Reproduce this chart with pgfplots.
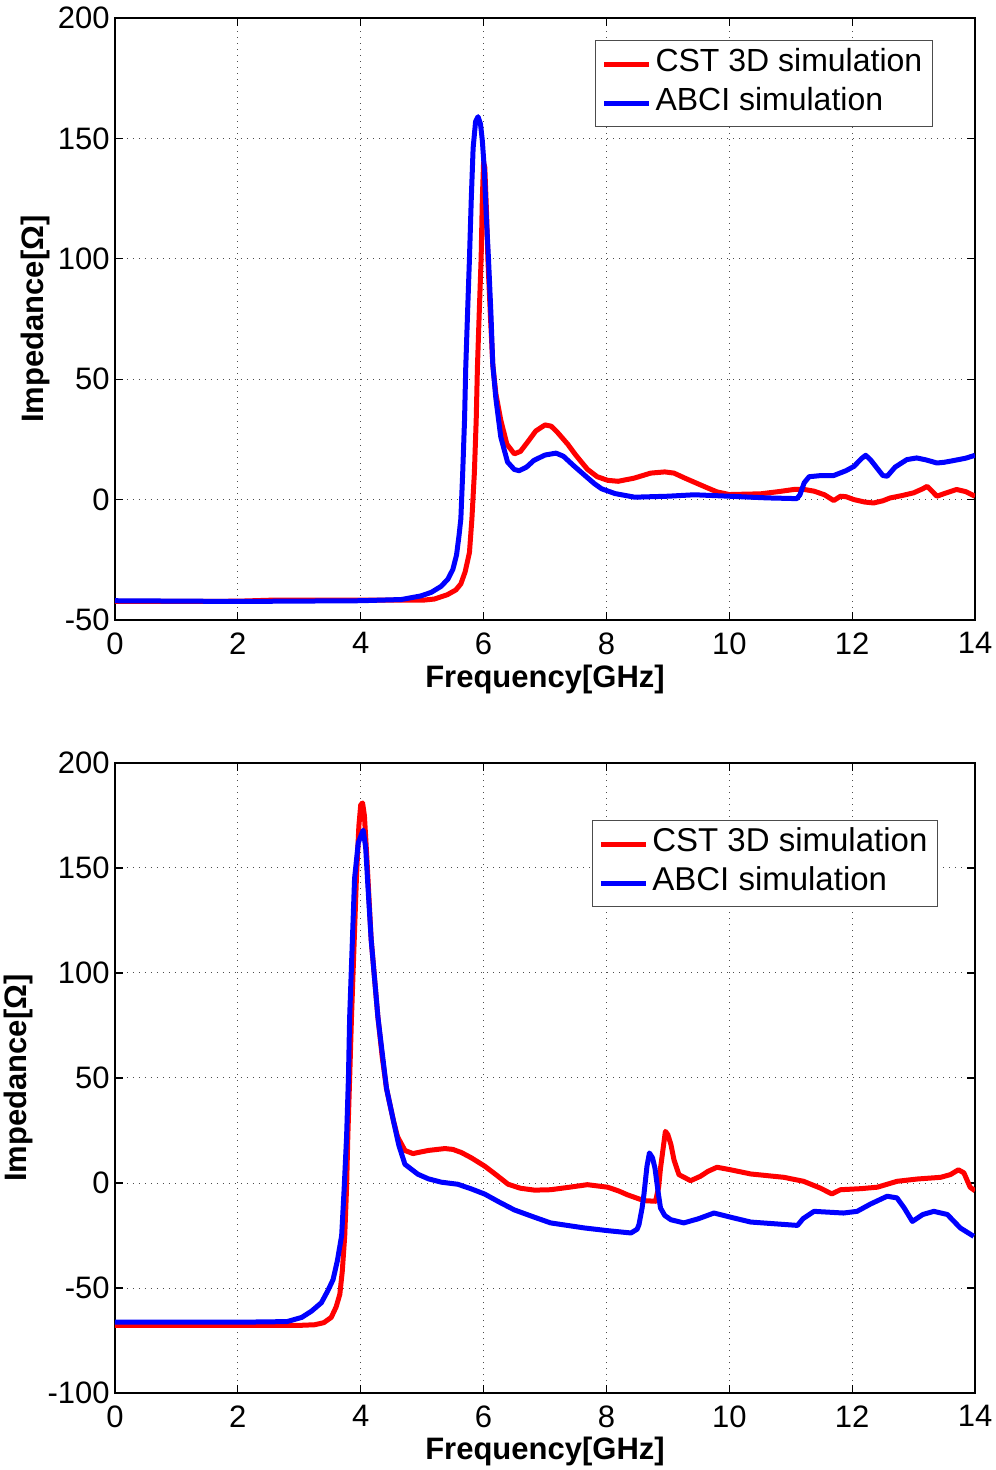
\documentclass[border=0pt]{standalone}
\usepackage{fontspec}
\setmainfont{Liberation Sans}
\usepackage{pgfplots}
\pgfplotsset{compat=1.18}

\pgfplotsset{
  imp/.style={
    scale only axis, width=430pt,
    xmin=0, xmax=14, xtick={0,2,...,14},
    xticklabels={0,2,4,6,8,10,12,14},
    tick align=inside, major tick length=4pt,
    axis line style={black, line width=0.6pt},
    tick style={black, line width=0.6pt},
    grid=major,
    major grid style={black!70, line width=0.5pt, dash pattern=on 0.6pt off 2.4pt},
    xticklabel style={inner sep=0pt, yshift=-6pt},
    yticklabel style={inner sep=0pt, xshift=-2.5pt},
    xlabel={\textbf{Frequency[GHz]}},
    ylabel={\textbf{Impedance[Ω]}},
    legend cell align=left,
    legend image code/.code={\draw[#1] (0pt,0pt) -- (22.5pt,0pt);},
    legend style={draw=black!70, line width=0.6pt, fill=white,
      inner xsep=3pt, inner ysep=2.5pt, row sep=1pt,
      nodes={inner sep=2pt, text height=11pt, text depth=3.5pt, line width=0.6pt}},
  },
  cst/.style={red, line width=2.5pt, line join=round},
  abci/.style={blue, line width=2.5pt, line join=round},
}

\begin{document}
\begin{tikzpicture}[font=\fontsize{15.5}{18}\selectfont]
\path[use as bounding box] (-57.5pt,-425pt) rectangle (440pt,310pt);

\begin{axis}[imp, name=top, at={(0,0)}, anchor=south west,
    height=301pt, ymin=-50, ymax=200,
    ytick={-50,0,50,100,150,200},
    yticklabels={-50,0,50,100,150,200},
    xlabel style={at={(axis description cs:0.5,-0.098)}, anchor=center},
    ylabel style={at={(axis description cs:-0.093,0.5)}, anchor=center, rotate=0},
    legend style={at={(axis description cs:0.951,0.963)}, anchor=north east,
      font=\fontsize{16}{18}\selectfont}]
\addplot[cst] coordinates {
(0,-42.3) (1,-42.3) (2,-42.2) (2.5,-41.8) (3,-41.7) (4,-41.7) (4.5,-41.8)
(5,-41.8) (5.2,-41.3) (5.41,-39.5) (5.55,-37.5) (5.63,-35) (5.7,-30)
(5.77,-22) (5.81,-8) (5.85,11) (5.88,33) (5.90,55) (5.93,78) (5.96,100)
(5.98,125) (6.0,140) (6.02,138) (6.05,118) (6.07,100) (6.11,77) (6.15,56)
(6.2,44) (6.28,33) (6.38,23) (6.5,19) (6.6,20) (6.72,24) (6.85,28.5)
(7.0,31) (7.1,30.5) (7.2,28) (7.37,23) (7.5,18.5) (7.69,12.6) (7.85,9.5)
(8.02,8) (8.19,7.6) (8.45,8.9) (8.72,11) (8.95,11.5) (9.1,11) (9.27,9)
(9.45,7) (9.65,4.8) (9.8,3.2) (10.0,2.1) (10.51,2.4) (10.8,3.3) (11.05,4.2)
(11.2,4.3) (11.38,3.5) (11.55,2.0) (11.70,-0.4) (11.81,1.4) (11.9,1.2)
(12.03,0) (12.2,-1.0) (12.35,-1.4) (12.5,-0.5) (12.62,0.7) (12.8,1.6)
(13.0,2.8) (13.15,4.5) (13.22,5.5) (13.3,3.5) (13.38,1.4) (13.5,2.5)
(13.7,4.2) (13.85,3.3) (14.0,1.4)
};
\addplot[abci] coordinates {
(0,-42) (2,-42.3) (4,-42) (4.66,-41.5) (4.98,-40) (5.15,-38.5) (5.31,-36)
(5.42,-33) (5.50,-29) (5.56,-23) (5.60,-15) (5.63,-8) (5.66,11) (5.69,33)
(5.71,55) (5.74,78) (5.77,100) (5.80,125) (5.83,146) (5.87,157) (5.91,159)
(5.95,156) (5.98,149) (6.01,138) (6.04,120) (6.08,100) (6.12,77) (6.15,56)
(6.2,42) (6.28,26) (6.39,15.6) (6.5,12.5) (6.58,12) (6.7,13.5) (6.82,16.3)
(7.0,18.5) (7.18,19.3) (7.3,18) (7.47,14) (7.65,10) (7.80,6.7) (7.92,4.5)
(8.14,2.5) (8.46,1) (9.0,1.4) (9.43,2) (10.0,1.4) (10.62,0.7) (11.1,0.4)
(11.15,2) (11.22,7) (11.3,9.5) (11.5,10) (11.7,10) (11.9,12) (12.03,13.8)
(12.15,17) (12.22,18.4) (12.3,16.5) (12.41,12.9) (12.5,10) (12.57,9.7)
(12.7,13.5) (12.89,16.6) (13.05,17.3) (13.2,16.5) (13.38,15.2) (13.5,15.5)
(13.65,16.2) (13.85,17.2) (14.0,18.4)
};
\legend{CST 3D simulation, ABCI simulation}
\end{axis}

\begin{axis}[imp, at={(0,-71.5pt)}, anchor=north west,
    height=315pt, ymin=-100, ymax=200,
    ytick={-100,-50,0,50,100,150,200},
    yticklabels={-100,-50,0,50,100,150,200},
    xlabel style={at={(axis description cs:0.5,-0.0935)}, anchor=center},
    ylabel style={at={(axis description cs:-0.1128,0.5)}, anchor=center, rotate=0},
    legend style={at={(axis description cs:0.957,0.9095)}, anchor=north east,
      font=\fontsize{16.5}{18}\selectfont}]
\addplot[cst] coordinates {
(0,-67.8) (2,-67.8) (3.0,-67.8) (3.25,-67.5) (3.4,-66.5) (3.52,-64) (3.6,-59)
(3.66,-53) (3.7,-42) (3.74,-25) (3.77,-2) (3.79,22) (3.82,50) (3.85,79)
(3.89,112) (3.93,145) (3.97,170) (4.0,180) (4.03,181) (4.06,175) (4.1,155) (4.17,116)
(4.28,79) (4.35,60) (4.42,45) (4.53,30) (4.6,22) (4.72,15.5) (4.85,14)
(4.93,14.5) (5.1,15.5) (5.37,16.4) (5.5,16) (5.64,14.5) (5.8,12) (6.02,8)
(6.2,4) (6.40,-0.6) (6.6,-2.5) (6.83,-3.4) (7.09,-3.2) (7.4,-2) (7.69,-0.8)
(8.02,-2) (8.2,-3.8) (8.34,-5.6) (8.61,-8.4) (8.80,-8.7) (8.85,-2) (8.88,7)
(8.93,18) (8.96,24.6) (9.0,23) (9.05,18.3) (9.1,11) (9.18,4) (9.37,1.1)
(9.53,3.2) (9.65,5.5) (9.80,7.5) (10.02,6.3) (10.35,4.3) (10.89,2.7)
(11.21,0.8) (11.48,-2.4) (11.67,-5.2) (11.81,-3.2) (12.14,-2.7) (12.41,-2)
(12.73,0.8) (13.06,1.9) (13.44,2.7) (13.6,4) (13.73,6.3) (13.82,4.8)
(13.92,-2) (14.0,-3.7)
};
\addplot[abci] coordinates {
(0,-66.2) (2,-66.3) (2.8,-66) (3.04,-64) (3.2,-61) (3.36,-57) (3.47,-51)
(3.55,-46) (3.62,-37) (3.69,-25) (3.73,-3) (3.77,22) (3.80,50) (3.82,79)
(3.86,112) (3.90,145) (3.96,162) (4.04,168) (4.08,160) (4.12,140) (4.17,116)
(4.28,79) (4.42,45) (4.53,30) (4.62,18) (4.72,8.9) (4.93,4.2) (5.1,2)
(5.31,0.4) (5.58,-0.6) (5.8,-2.8) (6.02,-5.3) (6.25,-9) (6.50,-12.8)
(6.8,-16) (7.09,-19) (7.64,-21.4) (8.02,-22.7) (8.40,-23.8) (8.5,-22)
(8.53,-19.8) (8.58,-12) (8.61,-5.6) (8.66,8) (8.70,14.3) (8.75,12) (8.79,7.1)
(8.84,-4) (8.88,-11.9) (8.95,-15.5) (9.05,-17.5) (9.26,-19) (9.5,-17)
(9.75,-14.3) (10.08,-16.7) (10.35,-18.6) (11.11,-20.2) (11.2,-17)
(11.38,-13.5) (11.86,-14.3) (12.08,-13.5) (12.3,-10) (12.57,-6.3)
(12.73,-7.1) (12.85,-12) (12.98,-18.3) (13.15,-15) (13.33,-13.5)
(13.55,-15) (13.76,-21.4) (13.98,-25.4)
};
\legend{CST 3D simulation, ABCI simulation}
\end{axis}
\end{tikzpicture}
\end{document}
